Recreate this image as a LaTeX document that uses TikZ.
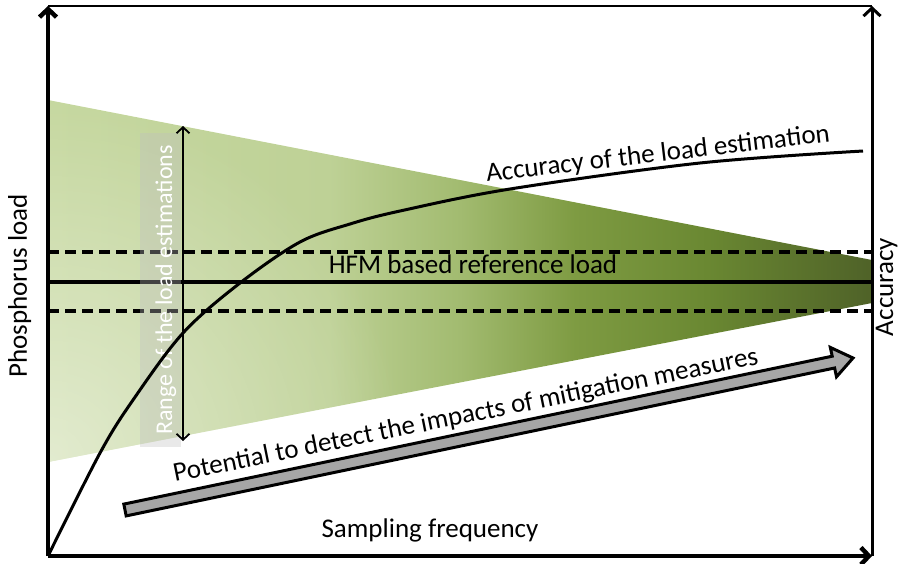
\documentclass[tikz,border=0pt]{standalone}
\usepackage{fontspec}
\setmainfont{Carlito}
\usepackage{tikz}
\usetikzlibrary{arrows.meta,fadings}

% Couleurs
\definecolor{greenA}{RGB}{198,216,160}
\definecolor{greenB}{RGB}{190,209,150}
\definecolor{greenC}{RGB}{162,187,112}
\definecolor{greenD}{RGB}{126,155,66}
\definecolor{greenE}{RGB}{106,136,50}
\definecolor{greenF}{RGB}{79,98,40}
\definecolor{boxgrey}{RGB}{191,191,191}
\definecolor{arrowgrey}{RGB}{166,166,166}

\pgfdeclarehorizontalshading{loadshade}{100bp}{color(0bp)=(greenA); color(25bp)=(greenA);
  color(42bp)=(greenB); color(50bp)=(greenC); color(57bp)=(greenD);
  color(65bp)=(greenE); color(75bp)=(greenF); color(100bp)=(greenF)}
\tikzfading[name=cornerfade, inner color=transparent!50, outer color=transparent!100]

\begin{document}
\begin{tikzpicture}[x=1pt, y=-1pt,
    axis/.style={line width=4.5pt, -{Straight Barb[length=8pt,width=17pt]}},
    refline/.style={line width=3.5pt, dash pattern=on 11pt off 6pt},
    lbl/.style={font=\fontsize{27}{32}\selectfont, inner sep=0pt}]
    \useasboundingbox (0,0) rectangle (901,563);

    % Coins du cadre
    \coordinate (O) at (48,556);
    \coordinate (TL) at (48,6);
    \coordinate (TR) at (872,6);
    \coordinate (BR) at (872,556);

    % Triangle des estimations
    \shade[shading=loadshade] (48,100) -- (872,260) -- (872,303) -- (48,462) -- cycle;
    \begin{scope}
        \clip (48,100) -- (872,260) -- (872,303) -- (48,462) -- cycle;
        \fill[white, path fading=cornerfade] (48,462) circle (360);
    \end{scope}

    % Charge de reference et bornes
    \coordinate (dl1) at (48,252);  \coordinate (dr1) at (872,252);
    \coordinate (sl) at (48,282);   \coordinate (sr) at (872,282);
    \coordinate (dl2) at (48,311);  \coordinate (dr2) at (872,311);
    \draw[refline] (dl1) -- (dr1);
    \draw[refline] (dl2) -- (dr2);
    \draw[line width=3.5pt] (sl) -- (sr);
    \node[lbl, anchor=base] (hfm) at (473,273) {HFM based reference load};

    % Plage des estimations
    \fill[boxgrey, opacity=0.35] (140,133) rectangle (181,447);
    \node[font=\fontsize{24}{28}\selectfont, text=white, inner sep=0pt, rotate=90, anchor=base]
        (range) at (172,290) {Range of the load estimations};
    \coordinate (rtop) at (183,126);
    \coordinate (rbot) at (183,441);
    \draw[line width=1.8pt, {Straight Barb[length=6pt,width=13pt]}-{Straight Barb[length=6pt,width=13pt]}] (rtop) -- (rbot);

    % Courbe de precision
    \draw[line width=3pt] plot[smooth, tension=0.55] coordinates {(48,556) (100,453) (133,400) (183,333) (240,283) (300,242) (350,224) (400,211) (510,189) (700,163) (863,151)};
    \node[lbl, anchor=base west, rotate=6.7] (acc) at (487,182) {Accuracy of the load estimation};

    % Fleche grise
    \draw[line width=3pt, fill=arrowgrey, line join=miter]
        (126.2,515.9) -- (123.8,504.1) -- (832.2,356.2) -- (830.3,347.4) -- (853,358)
        -- (836.5,376.8) -- (834.6,368.0) -- cycle;
    \node[lbl, anchor=base west, rotate=11.4] (pot) at (175,482) {Potential to detect the impacts of mitigation measures};

    % Axes
    \draw[line width=2pt] (TL) -- (TR);
    \draw[axis] (O) -- (TL);
    \draw[line width=3pt, -{Straight Barb[length=8pt,width=17pt]}] (BR) -- (TR);
    \draw[axis] (O) -- (BR);
    \node[lbl, anchor=base] (xlabel) at (430,537) {Sampling frequency};
    \node[lbl, anchor=base, rotate=90] (ylabel) at (27,286) {Phosphorus load};
    \node[lbl, anchor=base, rotate=90] (yrlabel) at (893,287) {Accuracy};
\end{tikzpicture}
\end{document}
